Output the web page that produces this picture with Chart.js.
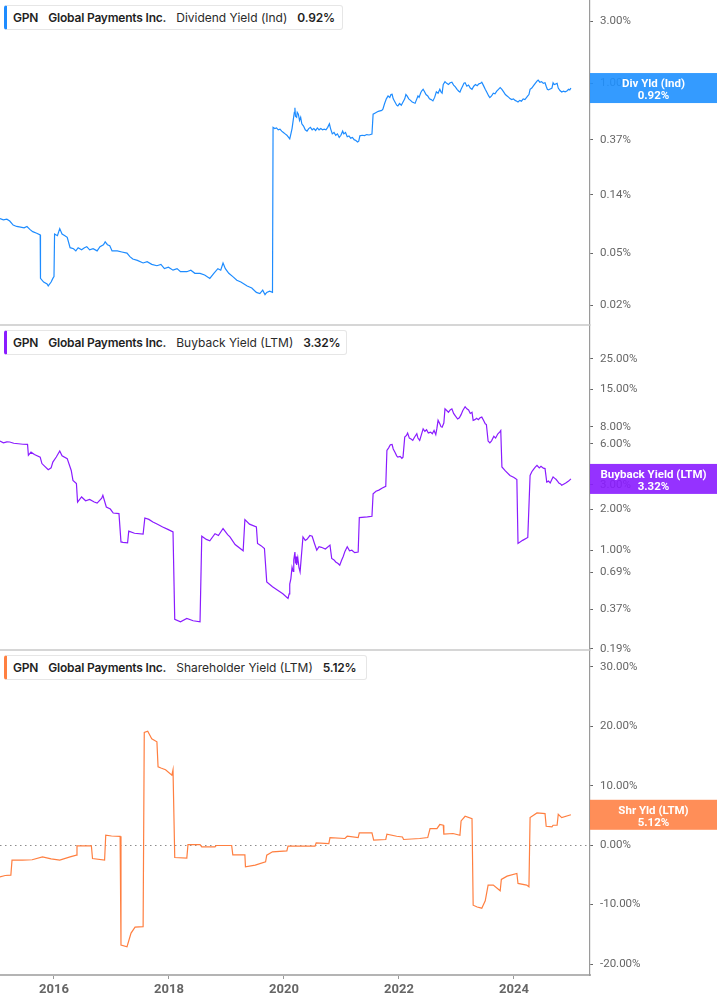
<!DOCTYPE html>
<html><head><meta charset="utf-8">
<script src="https://cdn.jsdelivr.net/npm/chart.js@4"></script>
<style>
body{margin:0;background:#fff;}
#wrap{position:relative;width:717px;height:1005px;overflow:hidden;}
#c{position:absolute;left:0;top:0;}
.hdr{position:absolute;left:4px;height:25px;background:#fff;border:1px solid #e6e6e6;border-left:3px solid;border-radius:3px;display:flex;align-items:center;padding-left:6px;font-family:Inter,sans-serif;font-size:12px;color:#2a2a2a;white-space:nowrap;box-sizing:border-box;}
.hdr span{margin-right:10px}
.hdr .b{font-weight:600;color:#1f1f1f;letter-spacing:-0.2px}
</style></head>
<body>
<div id="wrap">
<canvas id="c" width="717" height="1005"></canvas>
<div class="hdr" style="top:5px;width:339px;border-left-color:#1e8cff"><span class="b">GPN</span><span class="b">Global Payments Inc.</span><span>Dividend Yield (Ind)</span><span class="b">0.92%</span></div>
<div class="hdr" style="top:330px;width:343px;border-left-color:#8a1cff"><span class="b">GPN</span><span class="b">Global Payments Inc.</span><span>Buyback Yield (LTM)</span><span class="b">3.32%</span></div>
<div class="hdr" style="top:655px;width:363px;border-left-color:#ff8040"><span class="b">GPN</span><span class="b">Global Payments Inc.</span><span>Shareholder Yield (LTM)</span><span class="b">5.12%</span></div>
</div>
<script>
// ---- data ----
const xTicks = [2016, 2018, 2020, 2022, 2024];
const divTicks = [3, 1, 0.37, 0.14, 0.05, 0.02];
const bbTicks = [25, 15, 8, 6, 3, 2, 1, 0.69, 0.37, 0.19];
const shTicks = [30, 20, 10, 0, -10, -20];

const divYears = [2015.06,2015.12,2015.18,2015.23,2015.29,2015.35,2015.42,2015.48,2015.53,2015.58,2015.63,2015.70,2015.76,2015.765,2015.82,2015.88,2015.90,2015.95,2015.98,2016.00,2016.01,2016.06,2016.10,2016.14,2016.19,2016.23,2016.28,2016.34,2016.38,2016.42,2016.48,2016.53,2016.57,2016.62,2016.68,2016.75,2016.80,2016.86,2016.89,2016.93,2016.97,2017.01,2017.10,2017.18,2017.27,2017.32,2017.37,2017.45,2017.55,2017.62,2017.70,2017.79,2017.86,2017.92,2017.99,2018.07,2018.14,2018.20,2018.31,2018.38,2018.45,2018.54,2018.62,2018.71,2018.78,2018.85,2018.90,2018.94,2018.98,2019.04,2019.11,2019.18,2019.25,2019.36,2019.44,2019.52,2019.58,2019.63,2019.67,2019.70,2019.75,2019.80,
2019.81,2019.84,2019.87,2019.90,2019.93,2019.96,2019.99,2020.02,2020.05,2020.08,2020.10,2020.12,2020.14,2020.16,2020.18,2020.19,2020.20,2020.22,2020.23,2020.25,2020.27,2020.29,2020.31,2020.34,2020.37,2020.40,2020.43,2020.46,2020.49,2020.52,2020.55,2020.58,2020.61,2020.64,2020.67,2020.70,2020.73,2020.76,2020.79,2020.81,2020.84,2020.87,2020.90,2020.93,2020.96,2020.99,2021.02,2021.04,2021.07,2021.10,2021.13,2021.16,2021.19,2021.22,2021.25,2021.28,2021.30,2021.32,2021.36,2021.40,2021.44,2021.48,2021.53,2021.55,2021.58,2021.61,2021.64,2021.67,2021.70,2021.72,2021.75,2021.78,2021.81,2021.84,2021.86,2021.88,2021.90,2021.93,2021.96,2021.98,2022.01,2022.04,2022.07,2022.10,2022.12,2022.14,2022.17,2022.20,2022.23,2022.26,2022.28,2022.30,2022.33,2022.35,2022.38,2022.40,2022.42,2022.44,2022.47,2022.50,2022.53,2022.56,2022.59,2022.62,2022.65,2022.68,2022.71,2022.73,2022.75,2022.77,2022.80,2022.83,2022.86,2022.89,2022.92,2022.95,2022.98,2023.01,2023.04,2023.06,2023.08,2023.11,2023.13,2023.15,2023.18,2023.21,2023.24,2023.27,2023.30,2023.33,2023.36,2023.39,2023.42,2023.44,2023.47,2023.50,2023.53,2023.56,2023.58,2023.61,2023.64,2023.67,2023.70,2023.73,2023.76,2023.79,2023.82,2023.85,2023.88,2023.91,2023.93,2023.96,2023.99,2024.02,2024.05,2024.07,2024.10,2024.13,2024.16,2024.19,2024.22,2024.24,2024.26,2024.28,2024.31,2024.34,2024.37,2024.40,2024.42,2024.45,2024.48,2024.51,2024.54,2024.56,2024.58,2024.60,2024.62,2024.64,2024.66,2024.68,2024.70,2024.73,2024.75,2024.77,2024.80,2024.83,2024.86,2024.89,2024.92,2024.95,2024.97,2024.99];
const divValues = [0.092,0.090,0.091,0.088,0.082,0.080,0.079,0.078,0.080,0.076,0.073,0.071,0.069,0.032,0.030,0.029,0.028,0.030,0.032,0.033,0.070,0.068,0.077,0.070,0.068,0.066,0.055,0.054,0.052,0.055,0.053,0.055,0.056,0.053,0.054,0.052,0.056,0.058,0.061,0.058,0.057,0.052,0.052,0.051,0.050,0.047,0.045,0.044,0.042,0.043,0.041,0.040,0.041,0.038,0.039,0.037,0.038,0.036,0.036,0.037,0.035,0.035,0.034,0.032,0.035,0.038,0.037,0.042,0.038,0.035,0.033,0.031,0.030,0.028,0.027,0.025,0.0245,0.026,0.024,0.025,0.0255,0.025,
0.46,0.45,0.455,0.44,0.445,0.43,0.42,0.41,0.40,0.385,0.375,0.41,0.45,0.52,0.60,0.65,0.56,0.55,0.60,0.58,0.52,0.55,0.49,0.47,0.44,0.43,0.45,0.46,0.44,0.45,0.435,0.455,0.44,0.45,0.44,0.445,0.44,0.46,0.49,0.45,0.41,0.42,0.40,0.41,0.385,0.40,0.43,0.41,0.42,0.39,0.395,0.38,0.385,0.37,0.365,0.355,0.36,0.396,0.40,0.398,0.405,0.402,0.408,0.58,0.59,0.60,0.61,0.615,0.62,0.633,0.70,0.76,0.80,0.78,0.82,0.824,0.76,0.72,0.68,0.671,0.70,0.68,0.72,0.76,0.82,0.80,0.76,0.74,0.72,0.71,0.704,0.74,0.80,0.78,0.85,0.88,0.90,0.87,0.82,0.80,0.76,0.75,0.733,0.78,0.86,0.84,0.90,0.86,0.84,0.98,1.03,1.00,0.98,1.01,1.02,0.97,0.94,0.90,0.87,0.858,0.90,0.96,1.00,1.01,0.95,0.97,0.92,0.90,0.95,0.98,0.96,0.99,1.00,1.02,0.96,0.90,0.85,0.80,0.777,0.80,0.84,0.83,0.87,0.90,0.927,0.90,0.86,0.82,0.80,0.78,0.764,0.75,0.76,0.74,0.73,0.72,0.74,0.73,0.76,0.75,0.78,0.80,0.82,0.90,0.92,0.96,1.00,1.04,1.06,1.02,1.03,1.00,1.01,0.95,0.90,0.89,0.90,0.91,0.92,1.01,0.98,0.99,1.00,0.92,0.88,0.858,0.87,0.86,0.874,0.90,0.89,0.92];

const bbYears = [2015.06,2015.12,2015.18,2015.23,2015.30,2015.38,2015.46,2015.54,2015.555,2015.60,2015.66,2015.76,2015.79,2015.84,2015.90,2015.95,2015.98,2016.04,2016.10,2016.14,2016.23,2016.30,2016.33,2016.39,2016.41,2016.48,2016.55,2016.62,2016.70,2016.75,2016.83,2016.85,2016.91,2016.98,2017.03,2017.13,2017.165,2017.20,2017.28,2017.30,2017.40,2017.55,2017.58,2017.65,2017.72,2017.80,2017.89,2017.98,2018.07,2018.10,2018.20,2018.31,2018.42,2018.54,2018.57,2018.65,2018.71,2018.80,2018.86,2018.94,2019.02,2019.06,2019.15,2019.29,2019.32,2019.40,2019.52,2019.54,2019.60,2019.66,2019.70,2019.80,2019.89,2019.98,2020.07,2020.09,2020.10,2020.12,2020.14,2020.16,2020.17,2020.19,2020.20,2020.21,2020.22,2020.24,2020.26,2020.28,2020.33,2020.37,2020.40,2020.45,2020.49,2020.53,2020.57,2020.61,2020.65,2020.72,2020.80,2020.83,2020.87,2020.90,2020.94,2020.97,2021.00,2021.03,2021.06,2021.10,2021.14,2021.18,2021.23,2021.29,2021.31,2021.45,2021.53,2021.55,2021.60,2021.65,2021.71,2021.77,
2021.79,2021.82,2021.85,2021.88,2021.90,2021.93,2021.96,2021.98,2022.02,2022.05,2022.07,2022.10,2022.13,2022.15,2022.18,2022.21,2022.24,2022.27,2022.31,2022.33,2022.36,2022.39,2022.42,2022.45,2022.48,2022.51,2022.55,2022.58,2022.61,2022.64,2022.66,2022.68,2022.71,2022.73,2022.75,2022.78,2022.80,2022.83,2022.86,2022.89,2022.92,2022.95,2022.98,2023.02,2023.05,2023.08,2023.11,2023.15,2023.18,2023.21,2023.24,2023.27,2023.29,2023.32,2023.35,2023.38,2023.41,2023.44,2023.47,2023.50,2023.52,2023.55,2023.58,2023.61,2023.65,2023.68,2023.72,2023.75,2023.77,2023.79,2023.85,2023.93,2024.00,2024.05,2024.07,2024.15,2024.24,2024.28,2024.31,2024.34,2024.37,2024.40,2024.44,2024.47,2024.51,2024.54,2024.57,2024.60,2024.63,2024.66,2024.68,2024.71,2024.73,2024.76,2024.78,2024.81,2024.83,2024.87,2024.90,2024.95,2024.99];
const bbValues = [6.28,6.10,6.20,6.18,6.05,6.00,5.95,5.94,4.94,5.21,5.00,4.79,4.30,4.10,3.88,4.00,4.41,4.80,5.31,4.90,4.67,3.83,3.24,3.07,2.25,2.45,2.30,2.35,2.25,2.21,2.40,2.52,2.07,2.00,1.87,1.85,1.15,1.14,1.13,1.38,1.33,1.31,1.72,1.68,1.61,1.55,1.48,1.42,1.36,0.312,0.30,0.317,0.305,0.30,1.265,1.20,1.17,1.32,1.28,1.44,1.30,1.25,1.10,0.99,1.675,1.55,1.48,1.12,1.08,1.03,0.587,0.54,0.51,0.48,0.444,0.48,0.565,0.62,0.75,0.70,0.85,0.97,0.80,0.90,0.78,0.88,0.75,0.694,1.25,1.18,1.20,1.28,1.265,1.12,1.00,1.06,1.05,1.02,1.09,0.87,0.85,0.82,0.80,0.777,0.84,0.90,0.98,1.06,0.99,1.00,0.96,0.97,1.73,1.75,1.77,2.59,2.70,2.75,2.85,2.93,
5.37,5.6,5.9,5.94,5.5,5.20,4.9,4.79,4.85,4.7,4.79,6.71,6.9,7.18,6.6,6.5,6.35,6.7,7.10,6.6,6.35,7.0,7.70,7.4,7.6,7.2,7.30,7.1,7.5,7.00,7.8,8.90,8.4,8.0,7.93,8.5,10.8,10.5,10.2,10.6,10.8,10.0,9.6,9.10,9.3,9.8,10.5,11.2,10.8,10.6,10.0,10.2,8.9,9.0,9.2,9.0,9.3,9.4,8.9,8.4,8.3,6.28,6.1,6.3,6.80,6.6,7.10,7.3,7.50,4.06,3.80,3.52,3.40,3.28,1.12,1.18,1.24,3.52,3.75,3.90,4.05,4.17,4.00,4.10,3.98,3.95,3.15,3.20,3.10,3.30,3.43,3.35,3.30,3.18,3.10,3.05,2.98,3.05,3.10,3.20,3.32];

const shYears = [2015.06,2015.15,2015.25,2015.27,2015.45,2015.62,2015.80,2015.95,2016.10,2016.28,2016.39,2016.40,2016.65,2016.67,2016.88,2016.90,2017.00,2017.15,2017.165,2017.27,2017.34,2017.41,2017.55,2017.57,2017.63,2017.70,2017.79,2017.81,2017.86,2017.94,2018.05,2018.07,2018.10,2018.31,2018.33,2018.54,2018.57,2018.80,2018.82,2019.09,2019.11,2019.32,2019.33,2019.50,2019.68,2019.70,2019.80,2020.05,2020.07,2020.54,2020.56,2020.78,2020.80,2021.06,2021.10,2021.29,2021.31,2021.53,2021.56,2021.77,2021.79,2021.96,2022.06,2022.08,2022.36,2022.50,2022.54,2022.66,2022.71,2022.77,2022.78,2022.94,2023.06,2023.08,2023.15,2023.27,2023.29,2023.36,2023.44,2023.50,2023.55,2023.64,2023.76,2023.78,2023.88,2024.05,2024.07,2024.22,2024.26,2024.28,2024.40,2024.54,2024.56,2024.66,2024.68,2024.75,2024.77,2024.83,2024.99];
const shValues = [-5.33,-5.10,-5.04,-2.52,-2.52,-2.45,-1.96,-2.30,-2.52,-1.96,-1.68,-0.10,-0.10,-2.24,-2.52,1.68,1.55,1.50,-16.8,-17.1,-14.8,-13.8,-13.7,19.0,19.2,17.9,17.4,13.2,13.0,12.7,11.8,12.7,-2.07,-2.18,0.10,0.10,-0.28,-0.28,-0.05,-0.05,-1.63,-1.63,-3.64,-3.36,-2.8,-1.68,-1.12,-0.96,-0.17,-0.17,0.39,0.28,1.29,1.13,1.51,1.29,2.07,2.07,0.84,0.96,1.85,1.51,1.39,0.96,1.13,1.29,2.8,2.8,3.48,3.36,1.85,1.97,1.68,4.09,4.87,4.48,-10.1,-10.4,-10.6,-9.36,-6.72,-6.72,-7.68,-5.77,-5.21,-4.76,-6.44,-6.72,-7.0,4.65,5.43,5.32,3.19,3.08,3.36,3.36,5.21,4.65,5.12];

const toXY = (xs, ys) => xs.map((x, i) => ({x: x, y: ys[i]}));
const fmt = v => Number(v).toFixed(2) + '%';

const BLUE = '#1e8cff', PURPLE = '#8a1cff', ORANGE = '#ff7f40';

const yAxis = (type, min, max, ticksArr) => ({
  type: type, position: 'right', stack: 'panels', stackWeight: 1,
  min: min, max: max,
  afterFit: s => { s.width = 127; s.paddingTop = 0; s.paddingBottom = 0; },
  afterBuildTicks: s => { s.ticks = ticksArr.map(v => ({value: v})); },
  border: {display: true, color: '#9a9a9a', width: 1.2},
  grid: {display: true, drawOnChartArea: false, drawTicks: true, tickLength: 3, tickColor: '#666', tickWidth: 1},
  ticks: {callback: fmt, color: '#666', padding: 7, font: {family: 'Roboto', size: 11.5}, autoSkip: false}
});

const overlay = {
  id: 'overlay',
  beforeDatasetsDraw(chart) {
    const {ctx, chartArea} = chart;
    const y3 = chart.scales.y3;
    const yz = Math.round(y3.getPixelForValue(0)) + 0.5;
    ctx.save();
    ctx.strokeStyle = '#8c8c8c';
    ctx.lineWidth = 1;
    ctx.setLineDash([1.5, 3.5]);
    ctx.beginPath(); ctx.moveTo(chartArea.left, yz); ctx.lineTo(chartArea.right, yz); ctx.stroke();
    ctx.restore();
  },
  afterDraw(chart) {
    const {ctx, chartArea} = chart;
    ctx.save();
    ctx.strokeStyle = '#c8c8c8';
    ctx.lineWidth = 1.5;
    ['y2', 'y3'].forEach(id => {
      const t = chart.scales[id].top;
      ctx.beginPath(); ctx.moveTo(0, t); ctx.lineTo(chartArea.right, t); ctx.stroke();
    });
    const boxes = [
      {ds: 0, axis: 'y1', color: '#1e90ff', label: 'Div Yld (Ind)'},
      {ds: 1, axis: 'y2', color: '#8a1cff', label: 'Buyback Yield (LTM)'},
      {ds: 2, axis: 'y3', color: '#ff8246', label: 'Shr Yld (LTM)'}
    ];
    boxes.forEach(b => {
      const data = chart.data.datasets[b.ds].data;
      const last = data[data.length - 1].y;
      const yc = chart.scales[b.axis].getPixelForValue(last);
      const left = chartArea.right, w = chart.width - left, h = 30;
      ctx.globalAlpha = 0.9;
      ctx.fillStyle = b.color;
      ctx.fillRect(left, yc - h / 2, w, h);
      ctx.globalAlpha = 1;
      ctx.fillStyle = '#fff';
      ctx.textAlign = 'center';
      ctx.textBaseline = 'middle';
      ctx.font = 'bold 11.5px Roboto';
      ctx.fillText(b.label, left + w / 2, yc - 4);
      ctx.fillText(fmt(last), left + w / 2, yc + 8);
    });
    ctx.restore();
  }
};

const lineDs = (data, color, axis) => ({
  data: data, yAxisID: axis, borderColor: color, borderWidth: 1.2,
  pointRadius: 0, tension: 0, fill: false
});

new Chart(document.getElementById('c'), {
  type: 'line',
  data: {
    datasets: [
      lineDs(toXY(divYears, divValues), BLUE, 'y1'),
      lineDs(toXY(bbYears, bbValues), PURPLE, 'y2'),
      lineDs(toXY(shYears, shValues), ORANGE, 'y3')
    ]
  },
  options: {
    responsive: false, animation: false, devicePixelRatio: 1,
    layout: {padding: 0},
    plugins: {legend: {display: false}, tooltip: {enabled: false}},
    scales: {
      x: {
        type: 'linear', position: 'bottom', min: 2015.061, max: 2025.322,
        afterFit: s => { s.height = 30; s.paddingLeft = 0; s.paddingRight = 0; },
        afterBuildTicks: s => { s.ticks = xTicks.map(v => ({value: v})); },
        border: {display: true, color: '#b4b4b4', width: 2},
        grid: {display: true, drawOnChartArea: false, drawTicks: true, tickLength: 4, tickColor: '#999'},
        ticks: {callback: v => String(v), color: '#666', padding: 3, font: {family: 'Roboto', size: 13, weight: 'bold'}, maxRotation: 0}
      },
      y1: yAxis('logarithmic', 0.01406, 4.35, divTicks),
      y2: yAxis('logarithmic', 0.1864, 44.3, bbTicks),
      y3: yAxis('linear', -21.85, 32.86, shTicks)
    }
  },
  plugins: [overlay]
});
</script>
</body></html>
